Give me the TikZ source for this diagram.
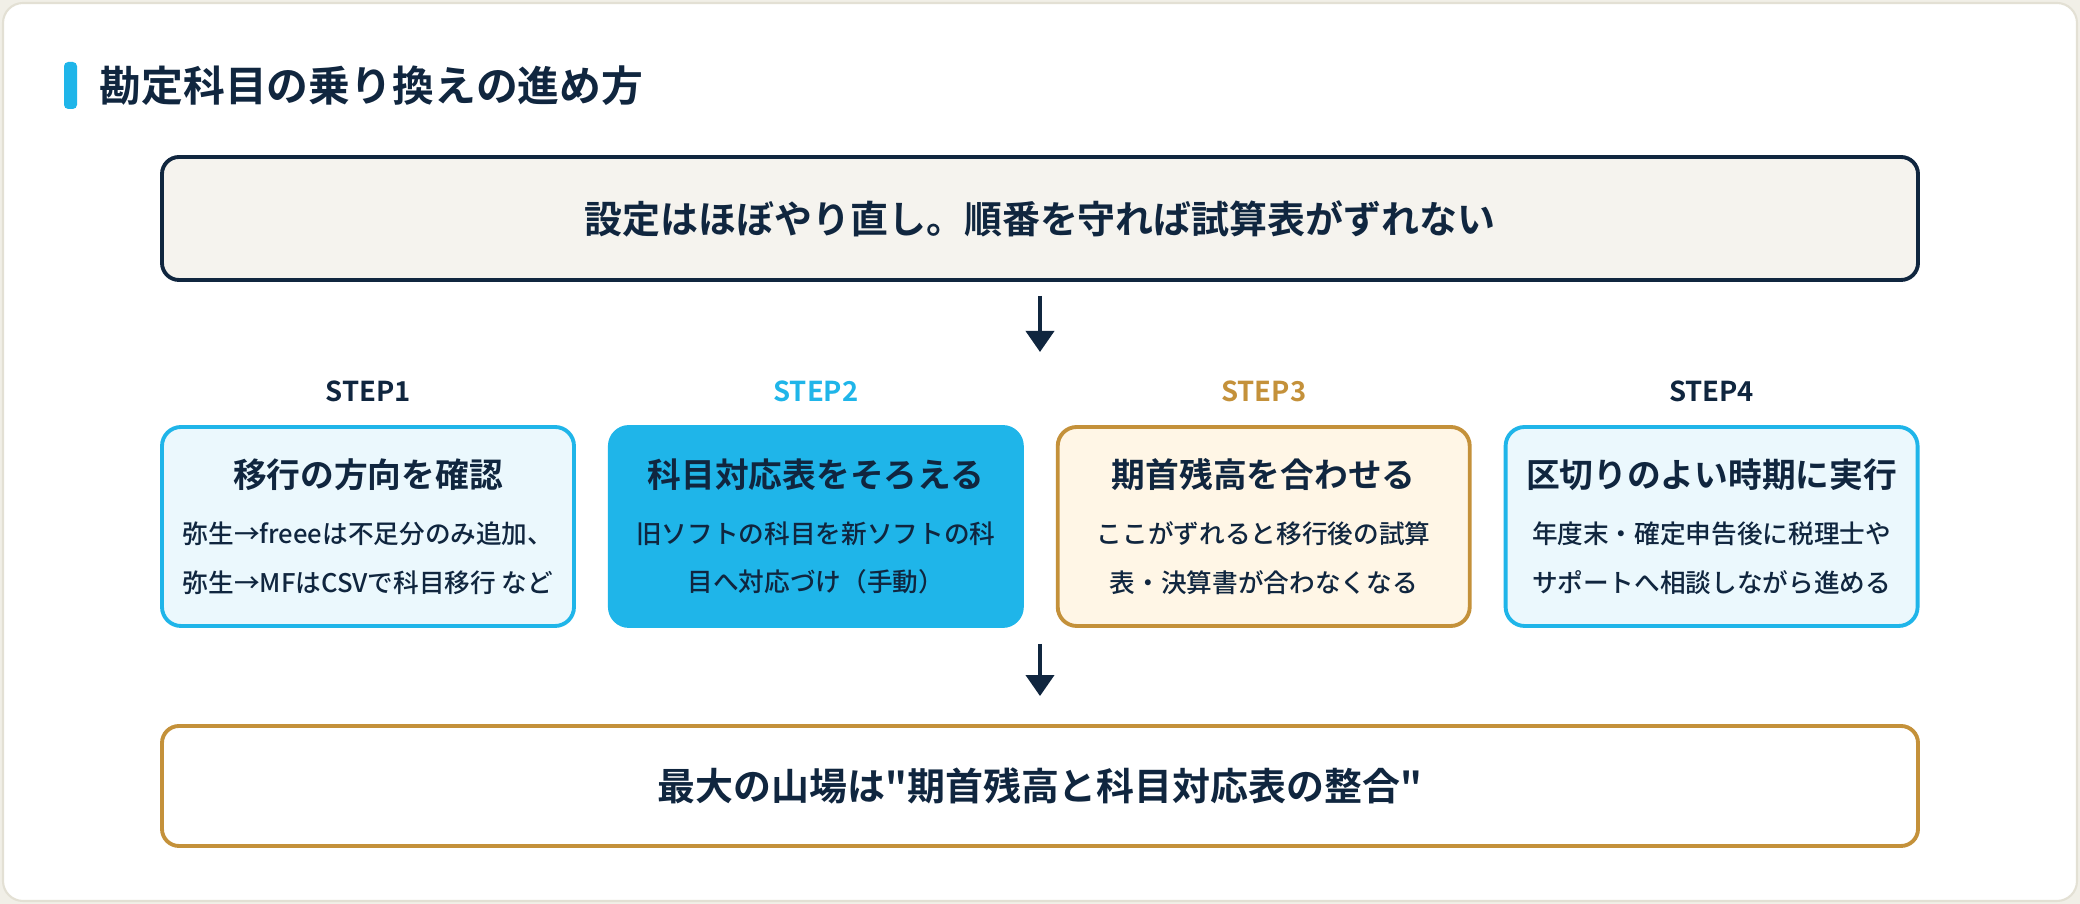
\documentclass[tikz,border=0pt]{standalone}
\usepackage{fontspec}
\setmainfont{Noto Sans CJK JP}[BoldFont={Noto Sans CJK JP Bold}]
\newfontfamily\plainjp{Noto Sans CJK JP}[BoldFont={Noto Sans CJK JP Bold}]
\newfontfamily\mediumjp{Noto Sans CJK JP Medium}
\usetikzlibrary{arrows.meta,positioning}
\definecolor{navy}{HTML}{10263F}
\definecolor{skyblue}{HTML}{1FB5E9}
\definecolor{skypale}{HTML}{EBF8FD}
\definecolor{gold}{HTML}{C4913A}
\definecolor{goldpale}{HTML}{FFF6E6}
\definecolor{paper}{HTML}{F5F3EE}
\definecolor{cardline}{HTML}{E3E0D4}
\definecolor{cardbg}{HTML}{F1EFE7}
\tikzset{
  mainbox/.style={draw, rectangle, rounded corners=0.17cm, line width=1.1pt, minimum width=17.56cm, minimum height=1.23cm, text=navy, font=\fontsize{10.8}{13}\selectfont\bfseries},
  stepbox/.style={draw, rectangle, rounded corners=0.19cm, line width=1.1pt, minimum width=4.12cm, minimum height=1.99cm, align=center, text=navy, font=\mediumjp\fontsize{7.3}{13.9}\selectfont, inner sep=0pt},
  steplabel/.style={font=\fontsize{7.8}{9}\selectfont\bfseries, inner sep=0pt},
  arr/.style={-{Triangle[length=2.1mm,width=2.8mm]}, line width=1.1pt, navy}
}
\newcommand{\boxtitle}[1]{{\rmfamily\fontsize{9.6}{11}\selectfont\bfseries #1}}

\begin{document}
\begin{tikzpicture}
\useasboundingbox (0,0) rectangle (20.8,9.04);
\fill[cardbg] (0,0) rectangle (20.8,9.04);
\draw[cardline, fill=white, line width=0.6pt, rounded corners=0.2cm] (0.03,0.03) rectangle (20.77,9.01);

% heading
\node[fill=skyblue, rounded corners=1.2pt, minimum width=0.13cm, minimum height=0.47cm, inner sep=0pt] (bar) at (0.705,8.185) {};
\node[anchor=west, inner sep=0pt, text=navy, font=\fontsize{11.9}{14}\selectfont\bfseries] (title) at (0.99,8.18) {勘定科目の乗り換えの進め方};

\node[mainbox, draw=navy, fill=paper] (top) at (10.40,6.855) {設定はほぼやり直し。順番を守れば試算表がずれない};

% steps
\node[stepbox, draw=skyblue, fill=skypale] (step1) at (3.68,3.775) {\boxtitle{移行の方向を確認}\\[2pt]弥生→freeeは不足分のみ追加、\\弥生→MFはCSVで科目移行 など};
\node[stepbox, draw=skyblue, fill=skyblue, right=0.32cm of step1] (step2) {\boxtitle{科目対応表をそろえる}\\[2pt]旧ソフトの科目を新ソフトの科\\目へ対応づけ（手動）};
\node[stepbox, draw=gold, fill=goldpale, right=0.32cm of step2] (step3) {\boxtitle{期首残高を合わせる}\\[2pt]ここがずれると移行後の試算\\表・決算書が合わなくなる};
\node[stepbox, draw=skyblue, fill=skypale, right=0.32cm of step3] (step4) {\boxtitle{区切りのよい時期に実行}\\[2pt]年度末・確定申告後に税理士や\\サポートへ相談しながら進める};

\node[steplabel, text=navy, above=0.22cm of step1] (label1) {STEP1};
\node[steplabel, text=skyblue, above=0.22cm of step2] (label2) {STEP2};
\node[steplabel, text=gold, above=0.22cm of step3] (label3) {STEP3};
\node[steplabel, text=navy, above=0.22cm of step4] (label4) {STEP4};

\node[mainbox, draw=gold, fill=white, minimum height=1.20cm, font=\plainjp\fontsize{10.8}{13}\selectfont\bfseries] (bottom) at (10.40,1.18) {最大の山場は"期首残高と科目対応表の整合"};

\coordinate (flowmid) at (10.40,5.52);
\coordinate (flowlow) at (10.40,2.60);
\draw[arr, shorten <=0.14cm] (top) -- (flowmid);
\draw[arr, shorten >=0.28cm] (flowlow) -- (bottom);
\end{tikzpicture}
\end{document}
